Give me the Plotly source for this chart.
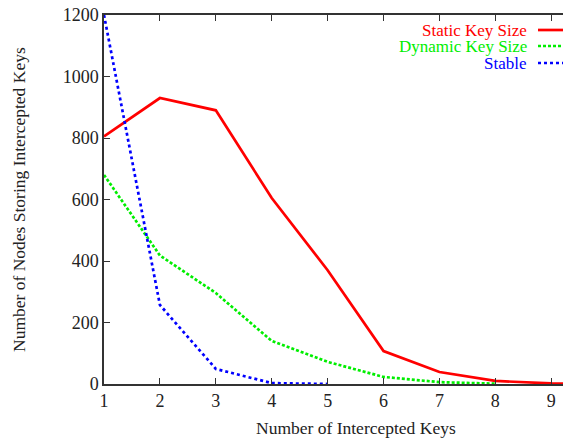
import plotly.graph_objects as go

x_static = [1, 2, 3, 4, 5, 6, 7, 8, 9, 10]
static_key = [805, 930, 890, 605, 370, 107, 39, 10, 2, 0]
x_dynamic = [1, 2, 3, 4, 5, 6, 7, 8]
dynamic_key = [680, 418, 296, 140, 72, 23, 6, 1]
x_stable = [1, 2, 3, 4, 5]
stable = [1200, 257, 49, 3, 0]

names = ["Static Key Size", "Dynamic Key Size", "Stable"]
colors = ["#ff0000", "#00ee00", "#0000ff"]
dashes = ["solid", "3px,2px", "dot"]

FONT = "Liberation Serif"
L, R, T, B = 104, 563, 15, 384

def px(xp):
    return (xp - L) / (R - L)

def py(yp):
    return 1 - (yp - T) / (B - T)

fig = go.Figure()
series = [(x_static, static_key), (x_dynamic, dynamic_key), (x_stable, stable)]
for (xs, ys), n, c, d in zip(series, names, colors, dashes):
    fig.add_trace(go.Scatter(x=xs, y=ys, mode="lines", name=n,
                             line=dict(color=c, width=2.7, dash=d),
                             showlegend=False, cliponaxis=True))

# legend built from annotations + sample lines (right-aligned text like gnuplot)
leg_y = [30, 46, 63]
for n, c, d, yy in zip(names, colors, dashes, leg_y):
    fig.add_annotation(xref="paper", yref="paper", x=px(528), y=py(yy),
                       text=n, showarrow=False, xanchor="right", yanchor="middle",
                       borderpad=0,
                       font=dict(family=FONT, size=17, color=c))
    fig.add_shape(type="line", xref="paper", yref="paper",
                  x0=px(538), x1=1.0, y0=py(yy), y1=py(yy),
                  line=dict(color=c, width=2.7, dash=d))

fig.add_annotation(xref="paper", yref="paper", x=px(356), y=py(428),
                   text="Number of Intercepted Keys", showarrow=False,
                   xanchor="center", yanchor="middle",
                   font=dict(family=FONT, size=17.5, color="#222"))
fig.add_annotation(xref="paper", yref="paper", x=px(19), y=py(200),
                   text="Number of Nodes Storing Intercepted Keys", showarrow=False,
                   xanchor="center", yanchor="middle", textangle=-90,
                   font=dict(family=FONT, size=17.5, color="#222"))

fig.update_layout(
    width=563, height=441,
    margin=dict(l=L, r=563 - R, t=T, b=441 - B),
    paper_bgcolor="white", plot_bgcolor="white",
    font=dict(family=FONT, size=17.5, color="#222"),
    xaxis=dict(range=[1, 9.21], tickvals=[1, 2, 3, 4, 5, 6, 7, 8, 9],
               ticks="inside", ticklen=6, tickcolor="#333", tickwidth=1,
               showline=True, linecolor="#333", linewidth=1.5, mirror="ticks",
               showgrid=False, zeroline=False, automargin=False,
               tickfont=dict(family=FONT, size=18)),
    yaxis=dict(range=[0, 1200], tickvals=[0, 200, 400, 600, 800, 1000, 1200],
               ticks="inside", ticklen=6, tickcolor="#333", tickwidth=1,
               showline=True, linecolor="#333", linewidth=1.5, mirror=False,
               showgrid=False, zeroline=False, automargin=False,
               tickfont=dict(family=FONT, size=18)),
)

post = ("document.body.style.margin='0';document.body.style.padding='0';"
        "document.body.style.overflow='hidden';"
        "document.documentElement.style.overflow='hidden';")

fig.write_html("out.html", post_script=post,
               config={"responsive": False, "displayModeBar": False})
